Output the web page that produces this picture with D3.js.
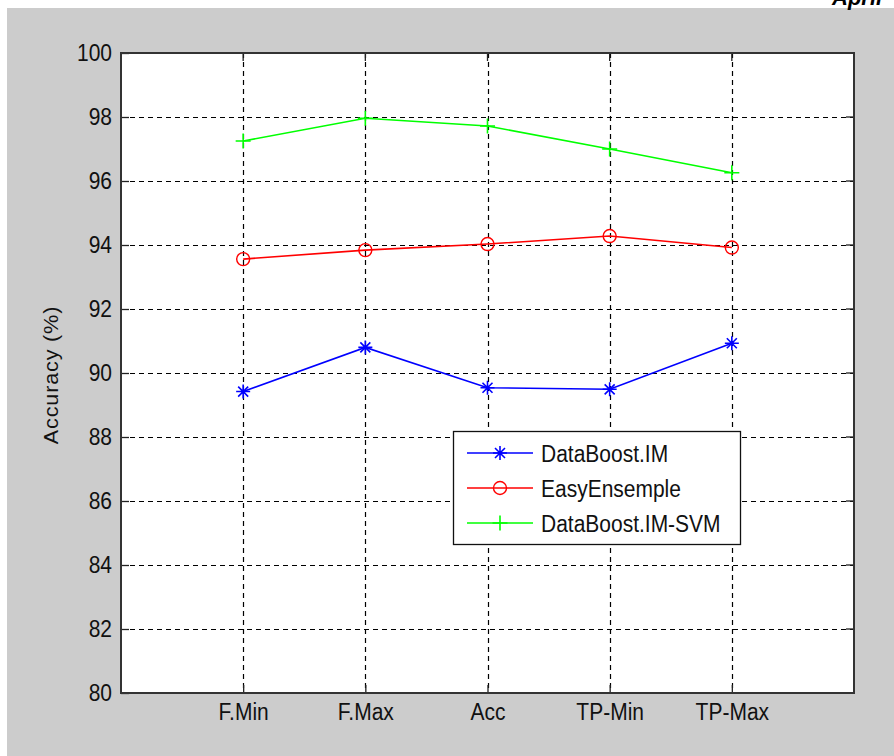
<!DOCTYPE html>
<html>
<head>
<meta charset="utf-8">
<script src="https://d3js.org/d3.v7.min.js"></script>
<style>
  body { margin: 0; background: #fff; }
  svg text { font-family: 'Liberation Sans', Arial, sans-serif; }
</style>
</head>
<body>
<div id="chart"></div>
<script>
// data
const categories = ["F.Min", "F.Max", "Acc", "TP-Min", "TP-Max"];
const dataBoost = [89.42, 90.80, 89.54, 89.49, 90.93];
const easyEnsemble = [93.56, 93.84, 94.03, 94.28, 93.92];
const dataBoostSvm = [97.25, 97.96, 97.72, 97.00, 96.26];
const yTicks = [80, 82, 84, 86, 88, 90, 92, 94, 96, 98, 100];

const series = [
  {name: "DataBoost.IM", values: dataBoost, color: "#0000ff", marker: "star"},
  {name: "EasyEnsemple", values: easyEnsemble, color: "#ff0000", marker: "circle"},
  {name: "DataBoost.IM-SVM", values: dataBoostSvm, color: "#00ff00", marker: "plus"}
];

const W = 894, H = 756;
const plot = {left: 121, right: 854, top: 53, bottom: 693};
const stretch = "scale(1,1.15)";  // the source image is a bit taller than wide

const svg = d3.select("#chart").append("svg")
  .attr("width", W).attr("height", H);

// figure background
svg.append("rect").attr("x", 7).attr("y", 8).attr("width", W - 7).attr("height", H - 8)
  .attr("fill", "#cccccc");

// clipped text at the top right (from the page above)
svg.append("text").attr("x", 832).attr("y", 5)
  .attr("font-family", "'Liberation Serif', serif")
  .attr("font-style", "italic").attr("font-weight", "bold")
  .attr("font-size", 22).attr("fill", "#000").text("April");

const x = d3.scaleLinear().domain([0, categories.length + 1]).range([plot.left, plot.right]);
const y = d3.scaleLinear().domain([80, 100]).range([plot.bottom, plot.top]);

svg.append("rect")
  .attr("x", plot.left).attr("y", plot.top)
  .attr("width", plot.right - plot.left).attr("height", plot.bottom - plot.top)
  .attr("fill", "#fff");

// grid
const grid = svg.append("g").attr("stroke", "#000").attr("stroke-width", 1.2)
  .attr("stroke-dasharray", "5,4");
grid.selectAll(".gy").data(yTicks.slice(1, -1)).join("line")
  .attr("x1", plot.left).attr("x2", plot.right)
  .attr("y1", d => Math.round(y(d)) + 0.5).attr("y2", d => Math.round(y(d)) + 0.5);
grid.selectAll(".gx").data(categories).join("line")
  .attr("x1", (d, i) => Math.round(x(i + 1)) + 0.5).attr("x2", (d, i) => Math.round(x(i + 1)) + 0.5)
  .attr("y1", plot.top).attr("y2", plot.bottom);

// axes
const xAxis = d3.axisBottom(x).tickValues(d3.range(1, categories.length + 1))
  .tickFormat(d => categories[d - 1]).tickSizeInner(-8).tickSizeOuter(0);
const yAxis = d3.axisLeft(y).tickValues(yTicks).tickSizeInner(-8).tickSizeOuter(0).tickPadding(9);

const gx = svg.append("g").attr("transform", `translate(0,${plot.bottom})`).call(xAxis);
const gy = svg.append("g").attr("transform", `translate(${plot.left},0)`).call(yAxis);
[gx, gy].forEach(g => {
  g.select(".domain").remove();
  g.selectAll(".tick line").attr("stroke", "#222").attr("stroke-width", 1.3);
  g.selectAll(".tick text").attr("font-size", 21).attr("fill", "#111")
    .attr("font-family", "'Liberation Sans', Arial, sans-serif")
    .attr("transform", stretch);
});
gx.selectAll(".tick text").attr("y", 23.5).attr("dy", 0);

// top / right ticks (box on)
svg.append("g").selectAll("line").data(categories).join("line")
  .attr("x1", (d, i) => x(i + 1)).attr("x2", (d, i) => x(i + 1))
  .attr("y1", plot.top).attr("y2", plot.top + 8).attr("stroke", "#222").attr("stroke-width", 1.3);
svg.append("g").selectAll("line").data(yTicks).join("line")
  .attr("x1", plot.right).attr("x2", plot.right - 8)
  .attr("y1", d => y(d)).attr("y2", d => y(d)).attr("stroke", "#222").attr("stroke-width", 1.3);

// box
svg.append("rect")
  .attr("x", plot.left).attr("y", plot.top)
  .attr("width", plot.right - plot.left).attr("height", plot.bottom - plot.top)
  .attr("fill", "none").attr("stroke", "#333").attr("stroke-width", 2);

svg.append("text")
  .attr("transform", `translate(58,${(plot.top + plot.bottom) / 2 + 2}) rotate(-90) scale(1.03,1)`)
  .attr("text-anchor", "middle").attr("font-size", 21).attr("fill", "#111")
  .attr("letter-spacing", 0.8)
  .text("Accuracy (%)");

function drawMarker(g, type, cx, cy, color) {
  if (type === "circle") {
    g.append("circle").attr("cx", cx).attr("cy", cy).attr("r", 6.5)
      .attr("fill", "none").attr("stroke", color).attr("stroke-width", 1.4);
  } else if (type === "plus") {
    const s = 7.5;
    g.append("path").attr("d", `M${cx - s},${cy}H${cx + s}M${cx},${cy - s}V${cy + s}`)
      .attr("stroke", color).attr("stroke-width", 1.6).attr("fill", "none");
  } else {
    const s = 7, d = 5;
    g.append("path")
      .attr("d", `M${cx - s},${cy}H${cx + s}M${cx},${cy - s}V${cy + s}M${cx - d},${cy - d}L${cx + d},${cy + d}M${cx - d},${cy + d}L${cx + d},${cy - d}`)
      .attr("stroke", color).attr("stroke-width", 1.6).attr("fill", "none");
  }
}

const line = d3.line().x((d, i) => x(i + 1)).y(d => y(d));
series.forEach(s => {
  const g = svg.append("g");
  g.append("path").datum(s.values).attr("d", line)
    .attr("fill", "none").attr("stroke", s.color).attr("stroke-width", 1.6);
  s.values.forEach((v, i) => drawMarker(g, s.marker, x(i + 1), y(v), s.color));
});

// legend
const lg = svg.append("g");
lg.append("rect").attr("x", 453.5).attr("y", 431.5).attr("width", 287).attr("height", 113)
  .attr("fill", "#fff").attr("stroke", "#111").attr("stroke-width", 1.3);
series.forEach((s, i) => {
  const ly = 453 + i * 35;
  lg.append("line").attr("x1", 467).attr("x2", 533).attr("y1", ly).attr("y2", ly)
    .attr("stroke", s.color).attr("stroke-width", 1.6);
  drawMarker(lg, s.marker, 500, ly, s.color);
  lg.append("text").attr("transform", `translate(541,${ly}) ${stretch}`)
    .attr("dy", "0.36em")
    .attr("font-size", 21).attr("fill", "#111").text(s.name);
});
</script>
</body>
</html>
